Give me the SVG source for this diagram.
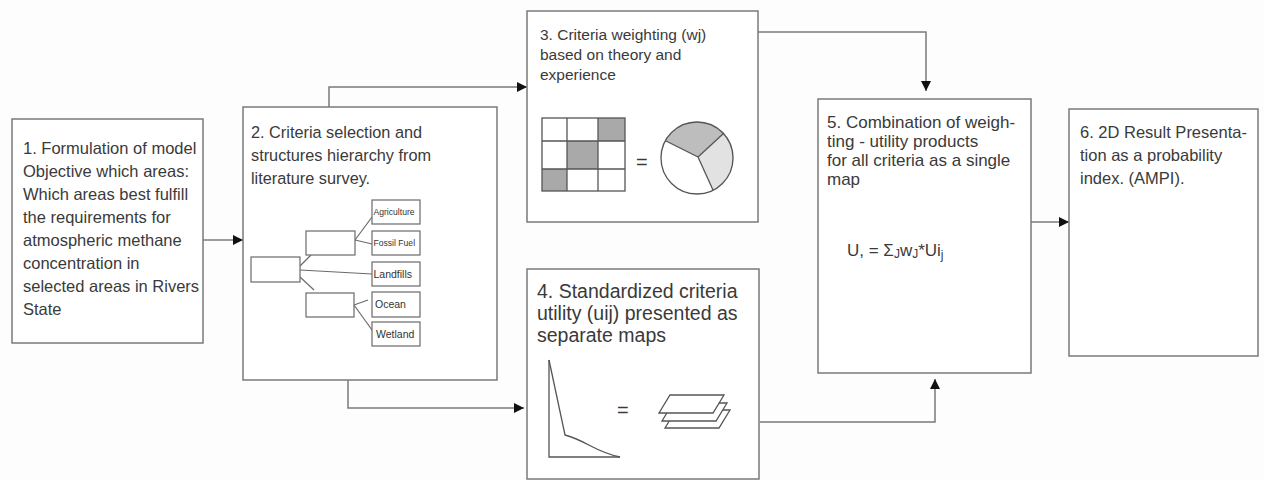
<svg xmlns="http://www.w3.org/2000/svg" width="1264" height="480" viewBox="0 0 1264 480">
  <defs>
    <marker id="arrow" viewBox="0 0 10 10" refX="10" refY="5" markerWidth="10" markerHeight="10" markerUnits="userSpaceOnUse" orient="auto">
      <path d="M0,0 L10,5 L0,10 Z" fill="#111"/>
    </marker>
    <style>
      .box { fill: #ffffff; stroke: #7a7a7a; stroke-width: 1.5; }
      .txt { font-family: "Liberation Sans", "DejaVu Sans", sans-serif; fill: #3a3a3a; }
      .conn { fill: none; stroke: #7a7a7a; stroke-width: 1.5; }
      .tree { fill: #ffffff; stroke: #6a6a6a; stroke-width: 1.2; }
      .treeline { fill: none; stroke: #6a6a6a; stroke-width: 1.2; }
      .leaf { font-family: "Liberation Sans", "DejaVu Sans", sans-serif; fill: #333; }
      .icon { fill: none; stroke: #555; stroke-width: 1.3; }
    </style>
  </defs>

  <rect width="1264" height="480" fill="#fdfdfd"/>

  <!-- connectors -->
  <g id="connectors">
    <polyline class="conn" points="203,240 243,240" marker-end="url(#arrow)"/>
    <polyline class="conn" points="329,107 329,87 527,87" marker-end="url(#arrow)"/>
    <polyline class="conn" points="348,380 348,408 524,408" marker-end="url(#arrow)"/>
    <polyline class="conn" points="758,32 926,32 926,91" marker-end="url(#arrow)"/>
    <polyline class="conn" points="760,422 935,422 935,379" marker-end="url(#arrow)"/>
    <polyline class="conn" points="1031,222 1069,222" marker-end="url(#arrow)"/>
  </g>

  <!-- step 1 -->
  <g id="node1">
    <rect class="box" x="12" y="119" width="191" height="224"/>
    <text class="txt" font-size="16.5">
      <tspan x="23" y="154">1. Formulation of model</tspan>
      <tspan x="23" y="177">Objective which areas:</tspan>
      <tspan x="23" y="200">Which areas best fulfill</tspan>
      <tspan x="23" y="223">the requirements for</tspan>
      <tspan x="23" y="246">atmospheric methane</tspan>
      <tspan x="23" y="269">concentration in</tspan>
      <tspan x="23" y="292">selected areas in Rivers</tspan>
      <tspan x="23" y="315">State</tspan>
    </text>
  </g>

  <!-- step 2 -->
  <g id="node2">
    <rect class="box" x="243" y="107" width="254" height="273"/>
    <text class="txt" font-size="16.3">
      <tspan x="251" y="138">2. Criteria selection and</tspan>
      <tspan x="251" y="161">structures hierarchy from</tspan>
      <tspan x="251" y="184">literature survey.</tspan>
    </text>
    <!-- criteria hierarchy -->
    <g id="hierarchy">
      <line class="treeline" x1="300" y1="266" x2="311" y2="255"/>
      <line class="treeline" x1="300" y1="270" x2="372" y2="274"/>
      <line class="treeline" x1="300" y1="277" x2="314" y2="290"/>
      <line class="treeline" x1="355" y1="240" x2="372" y2="217"/>
      <line class="treeline" x1="355" y1="240" x2="372" y2="244"/>
      <line class="treeline" x1="354" y1="305" x2="368" y2="300"/>
      <line class="treeline" x1="354" y1="305" x2="372" y2="330"/>
      <rect class="tree" x="251" y="257" width="49" height="25"/>
      <rect class="tree" x="306" y="231" width="49" height="24"/>
      <rect class="tree" x="306" y="293" width="48" height="24"/>
      <rect class="tree" x="372" y="200" width="48" height="24"/>
      <rect class="tree" x="372" y="231" width="48" height="24"/>
      <rect class="tree" x="372" y="262" width="48" height="24"/>
      <rect class="tree" x="372" y="292" width="48" height="25"/>
      <rect class="tree" x="372" y="322" width="48" height="24"/>
      <text class="leaf" font-size="8.6" x="373.5" y="214.5">Agriculture</text>
      <text class="leaf" font-size="8.6" x="373.5" y="246">Fossil Fuel</text>
      <text class="leaf" font-size="10.5" x="373.5" y="278">Landfills</text>
      <text class="leaf" font-size="10.5" x="375" y="308">Ocean</text>
      <text class="leaf" font-size="10.5" x="376" y="338">Wetland</text>
    </g>
  </g>

  <!-- step 3 -->
  <g id="node3">
    <rect class="box" x="527" y="11" width="231" height="211"/>
    <text class="txt" font-size="15.5">
      <tspan x="540" y="40">3. Criteria weighting (wj)</tspan>
      <tspan x="540" y="60">based on theory and</tspan>
      <tspan x="540" y="80">experience</tspan>
    </text>
    <!-- weighting matrix -->
    <rect x="542" y="118" width="83" height="73" fill="#fff"/>
    <rect x="598" y="118" width="27" height="23" fill="#a9a9a9"/>
    <rect x="567" y="141" width="31" height="28" fill="#a9a9a9"/>
    <rect x="542" y="169" width="25" height="22" fill="#a9a9a9"/>
    <g class="icon">
      <rect x="542" y="118" width="83" height="73"/>
      <line x1="567" y1="118" x2="567" y2="191"/>
      <line x1="598" y1="118" x2="598" y2="191"/>
      <line x1="542" y1="141" x2="625" y2="141"/>
      <line x1="542" y1="169" x2="625" y2="169"/>
    </g>
    <text class="txt" font-size="20" x="636" y="169">=</text>
    <!-- weight pie -->
    <circle cx="697" cy="158" r="36" fill="#fff"/>
    <path d="M698,157 L666,141 A36,36 0 0 1 724,133 Z" fill="#bdbdbd"/>
    <path d="M698,157 L724,133 A36,36 0 0 1 713,190 Z" fill="#e2e2e2"/>
    <g class="icon">
      <circle cx="697" cy="158" r="36"/>
      <line x1="698" y1="157" x2="666" y2="141"/>
      <line x1="698" y1="157" x2="724" y2="133"/>
      <line x1="698" y1="157" x2="713" y2="190"/>
    </g>
  </g>

  <!-- step 4 -->
  <g id="node4">
    <rect class="box" x="527" y="269" width="232" height="210"/>
    <text class="txt" font-size="19.5">
      <tspan x="537" y="298">4. Standardized criteria</tspan>
      <tspan x="537" y="320">utility (uij) presented as</tspan>
      <tspan x="537" y="342">separate maps</tspan>
    </text>
    <!-- utility curve -->
    <g class="icon">
      <polyline points="549,360 549,457 620,457"/>
      <path d="M549,360 L565,435 C585,440 595,452 620,457"/>
    </g>
    <text class="txt" font-size="20" x="617" y="417">=</text>
    <!-- stacked map layers -->
    <g class="icon">
      <path d="M676,410 L730,410 L719,428 L665,428 Z" fill="#fff"/>
      <path d="M673,403 L727,403 L716,421 L662,421 Z" fill="#fff"/>
      <path d="M670,395 L724,395 L713,413 L659,413 Z" fill="#fff"/>
    </g>
  </g>

  <!-- step 5 -->
  <g id="node5">
    <rect class="box" x="818" y="99" width="213" height="274"/>
    <text class="txt" font-size="17">
      <tspan x="827" y="128">5. Combination of weigh-</tspan>
      <tspan x="827" y="147">ting - utility products</tspan>
      <tspan x="827" y="166">for all criteria as a single</tspan>
      <tspan x="827" y="185">map</tspan>
    </text>
    <text class="txt" font-size="17" x="847" y="256">U, = Σ<tspan font-size="12" dy="2">J</tspan><tspan dy="-2">w</tspan><tspan font-size="12" dy="2">J</tspan><tspan dy="-2">*Ui</tspan><tspan font-size="12" dy="3">j</tspan></text>
  </g>

  <!-- step 6 -->
  <g id="node6">
    <rect class="box" x="1069" y="109" width="189" height="247"/>
    <text class="txt" font-size="16.5">
      <tspan x="1080" y="138">6. 2D Result Presenta-</tspan>
      <tspan x="1080" y="161">tion as a probability</tspan>
      <tspan x="1080" y="184">index. (AMPI).</tspan>
    </text>
  </g>
</svg>
